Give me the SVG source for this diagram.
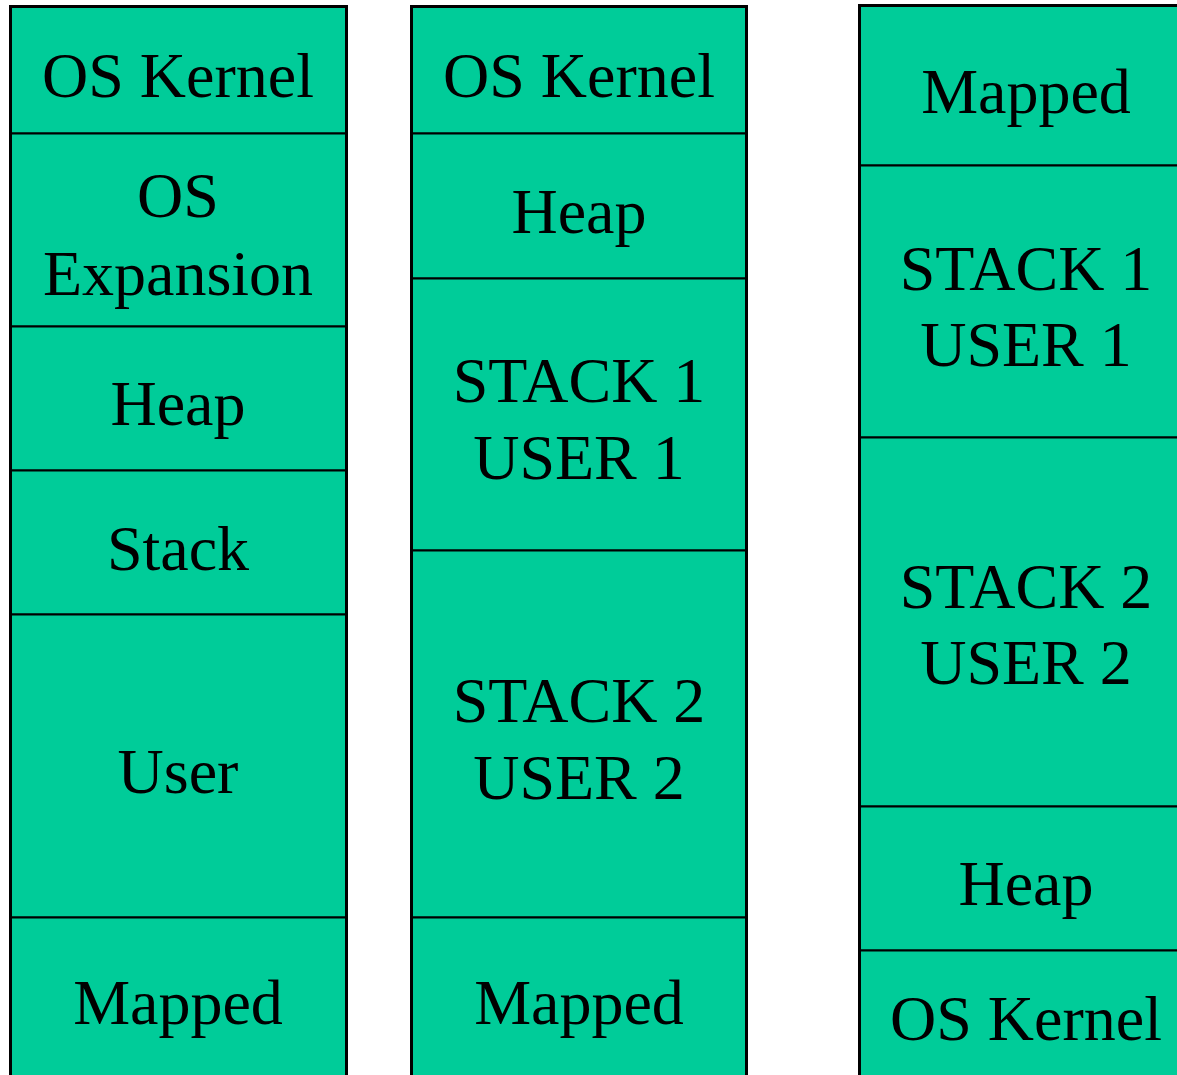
<svg xmlns="http://www.w3.org/2000/svg" width="1177" height="1075" viewBox="0 0 1177 1075">
<style>
.b{fill:#00CC99;stroke:#000;stroke-width:2}
.f{fill:none;stroke:#000;stroke-width:3}
text{font-family:"Liberation Serif","Times New Roman",serif;font-size:64px;fill:#000;text-anchor:middle}
</style>
<rect width="1177" height="1075" fill="#fff"/>
<g id="col1">
<g id="c1-kernel"><rect class="b" x="10.5" y="6.5" width="336" height="127"/><text x="178" y="97">OS Kernel</text></g>
<g id="c1-expansion"><rect class="b" x="10.5" y="133.5" width="336" height="193"/><text x="178" y="217">OS</text><text x="178" y="295">Expansion</text></g>
<g id="c1-heap"><rect class="b" x="10.5" y="326.5" width="336" height="144"/><text x="178" y="425">Heap</text></g>
<g id="c1-stack"><rect class="b" x="10.5" y="470.5" width="336" height="144"/><text x="178" y="570">Stack</text></g>
<g id="c1-user"><rect class="b" x="10.5" y="614.5" width="336" height="303"/><text x="178" y="793">User</text></g>
<g id="c1-mapped"><rect class="b" x="10.5" y="917.5" width="336" height="170"/><text x="178" y="1024">Mapped</text></g>
<rect class="f" x="10.5" y="6.5" width="336" height="1080"/>
</g>
<g id="col2">
<g id="c2-kernel"><rect class="b" x="411.5" y="6.5" width="335" height="127"/><text x="579" y="97">OS Kernel</text></g>
<g id="c2-heap"><rect class="b" x="411.5" y="133.5" width="335" height="145"/><text x="579" y="233">Heap</text></g>
<g id="c2-s1"><rect class="b" x="411.5" y="278.5" width="335" height="272"/><text x="579" y="402">STACK 1</text><text x="579" y="479">USER 1</text></g>
<g id="c2-s2"><rect class="b" x="411.5" y="550.5" width="335" height="367"/><text x="579" y="722">STACK 2</text><text x="579" y="799">USER 2</text></g>
<g id="c2-mapped"><rect class="b" x="411.5" y="917.5" width="335" height="170"/><text x="579" y="1024">Mapped</text></g>
<rect class="f" x="411.5" y="6.5" width="335" height="1080"/>
</g>
<g id="col3">
<g id="c3-mapped"><rect class="b" x="859.5" y="5.5" width="335" height="160"/><text x="1026" y="113">Mapped</text></g>
<g id="c3-s1"><rect class="b" x="859.5" y="165.5" width="335" height="272"/><text x="1026" y="290">STACK 1</text><text x="1026" y="366">USER 1</text></g>
<g id="c3-s2"><rect class="b" x="859.5" y="437.5" width="335" height="369"/><text x="1026" y="608">STACK 2</text><text x="1026" y="684">USER 2</text></g>
<g id="c3-heap"><rect class="b" x="859.5" y="806.5" width="335" height="144"/><text x="1026" y="905">Heap</text></g>
<g id="c3-kernel"><rect class="b" x="859.5" y="950.5" width="335" height="140"/><text x="1026" y="1040">OS Kernel</text></g>
<rect class="f" x="859.5" y="5.5" width="335" height="1085"/>
</g>
<g id="connectors"/>
</svg>
